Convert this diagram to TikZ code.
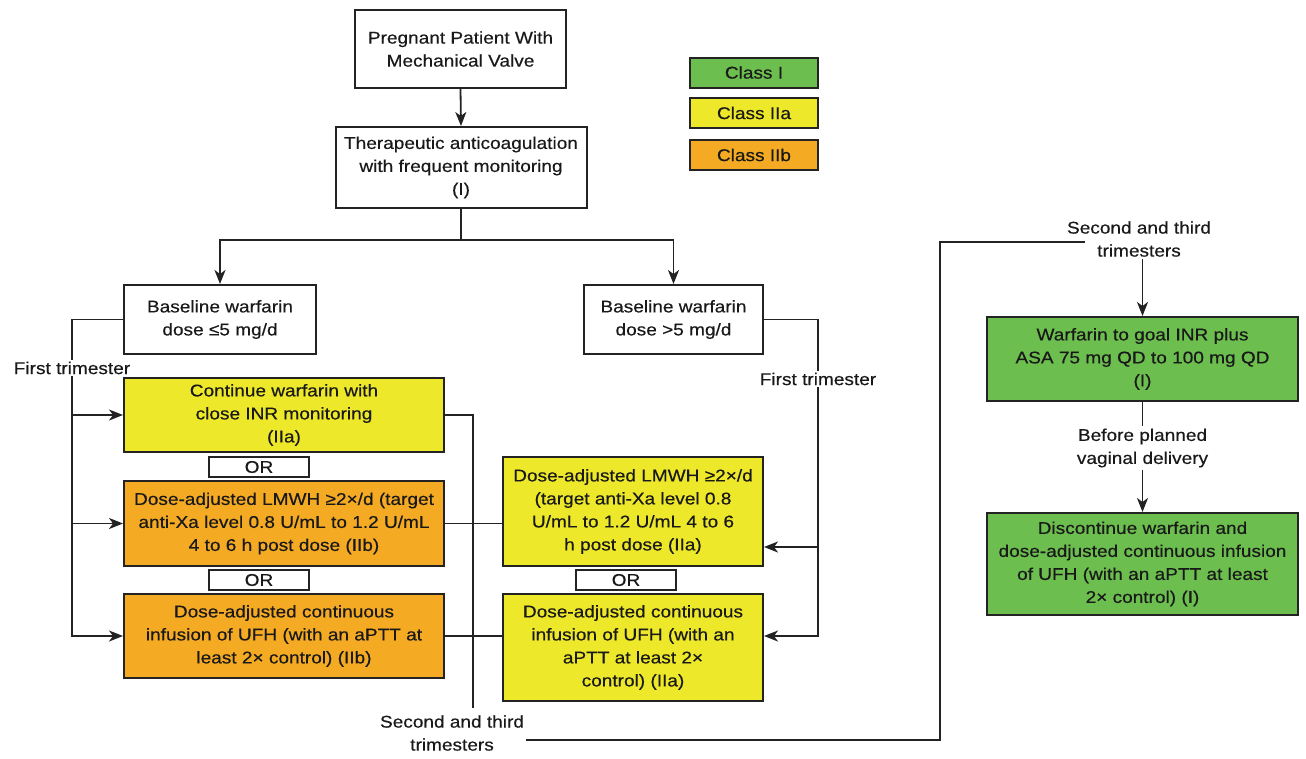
\documentclass[tikz,border=0pt]{standalone}
\usepackage{fontspec}
\setmainfont{Liberation Sans}[FakeStretch=1.12,FakeBold=0.4]
\usetikzlibrary{arrows.meta,calc}
\definecolor{cgreen}{RGB}{108,190,78}
\definecolor{cyellow}{RGB}{238,232,42}
\definecolor{corange}{RGB}{245,170,36}
\definecolor{cline}{RGB}{35,35,35}
\newcommand\fs{\fontsize{17}{23}\selectfont}
\tikzset{
  box/.style={draw=cline, line width=2pt, align=center, inner sep=2pt, font=\fs, text=black!90},
  orbox/.style={box, fill=white, minimum width=100, minimum height=20, inner sep=0pt},
  lbl/.style={align=center, font=\fs, inner sep=2pt, text=black!90},
  ln/.style={draw=cline, line width=1.8pt},
  arr/.style={ln, -{Stealth[length=14pt,width=11pt,inset=4pt]}}
}
\begin{document}
\begin{tikzpicture}[x=1pt,y=-1pt]
\useasboundingbox (0,0) rectangle (1306,758);
% top
\node[box, minimum width=211, minimum height=78] (top) at (460.5,49) {Pregnant Patient With\\Mechanical Valve};
\node[box, minimum width=251, minimum height=81] (ther) at (461,167.5) {Therapeutic anticoagulation\\with frequent monitoring\\(I)};
% legend
\node[box, fill=cgreen, minimum width=128, minimum height=30] (leg1) at (754,72.5) {Class I};
\node[box, fill=cyellow, minimum width=128, minimum height=30] (leg2) at (754,113) {Class IIa};
\node[box, fill=corange, minimum width=128, minimum height=30] (leg3) at (754,155) {Class IIb};
% baseline
\node[box, minimum width=192, minimum height=69] (bl5) at (220,319.5) {Baseline warfarin\\dose ≤5 mg/d};
\node[box, minimum width=179, minimum height=69] (bg5) at (673.5,319.5) {Baseline warfarin\\dose >5 mg/d};
% left column
\node[box, fill=cyellow, minimum width=320, minimum height=74] (b1) at (284,415) {Continue warfarin with\\close INR monitoring\\(IIa)};
\node[orbox] (or1) at (259,467) {OR};
\node[box, fill=corange, minimum width=320, minimum height=85] (b2) at (284,523.5) {Dose-adjusted LMWH ≥2×/d (target\\anti-Xa level 0.8 U/mL to 1.2 U/mL\\4 to 6 h post dose (IIb)};
\node[orbox] (or2) at (259,580) {OR};
\node[box, fill=corange, minimum width=320, minimum height=84] (b3) at (284,636) {Dose-adjusted continuous\\infusion of UFH (with an aPTT at\\least 2× control) (IIb)};
% middle column
\node[box, fill=cyellow, minimum width=260, minimum height=109] (mA) at (633,511.5) {Dose-adjusted LMWH ≥2×/d\\(target anti-Xa level 0.8\\U/mL to 1.2 U/mL 4 to 6\\h post dose (IIa)};
\node[orbox] (or3) at (626,580) {OR};
\node[box, fill=cyellow, minimum width=260, minimum height=107] (mB) at (633,647.5) {Dose-adjusted continuous\\infusion of UFH (with an\\aPTT at least 2×\\control) (IIa)};
% labels
\node[lbl] (ft1) at (72,368) {First trimester};
\node[lbl] (ft2) at (818,379) {First trimester};
\node[lbl] (st1) at (452,733) {Second and third\\trimesters};
\node[lbl] (st2) at (1139,239) {Second and third\\trimesters};
% right column
\node[box, fill=cgreen, minimum width=311, minimum height=84] (g1) at (1142.5,359) {Warfarin to goal INR plus\\ASA 75 mg QD to 100 mg QD\\(I)};
\node[lbl] (bpv) at (1142.5,448) {Before planned\\vaginal delivery};
\node[box, fill=cgreen, minimum width=311, minimum height=102] (g2) at (1142.5,564) {Discontinue warfarin and\\dose-adjusted continuous infusion\\of UFH (with an aPTT at least\\2× control) (I)};
% connectors
\coordinate (hy) at (461,240);
\draw[arr] (top.south) -- (ther.north);
\draw[ln] (ther.south) -- (hy);
\draw[arr] (hy) -| (bl5.north);
\draw[arr] (hy) -| (bg5.north);
% left first trimester
\draw[ln] (bl5.west) -| (ft1.north);
\draw[arr] (ft1.south) |- (b3.west);
\draw[arr] (ft1.south |- b1.west) -- (b1.west);
\draw[arr] (ft1.south |- b2.west) -- (b2.west);
% right first trimester
\coordinate (mAin) at ([yshift=-35.5pt]mA.east);
\coordinate (mBin) at ([yshift=11.5pt]mB.east);
\draw[ln] (bg5.east) -| (ft2.north);
\draw[arr] (ft2.south) |- (mBin);
\draw[arr] (ft2.south |- mAin) -- (mAin);
% cross links
\draw[ln] (b2.east) -- (b2.east -| mA.west);
\draw[ln] (b3.east) -- (b3.east -| mB.west);
% second and third trimesters loop
\coordinate (v1) at (473,708);
\coordinate (lc) at (940,242);
\coordinate (le) at (1085,242);
\draw[ln] (b1.east) -| (v1);
\draw[ln] ([yshift=-7pt]st1.east) -| (lc) -- (le);
\draw[arr] (st2.south -| g1.north) -- (g1.north);
\draw[ln] (g1.south) -- (bpv.north);
\draw[arr] (bpv.south) -- (g2.north);
\end{tikzpicture}
\end{document}
